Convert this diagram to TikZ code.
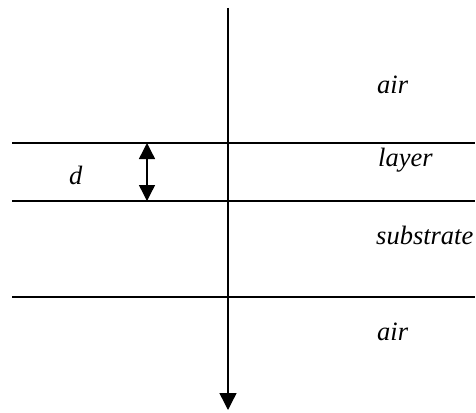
\documentclass[tikz,border=0pt]{standalone}
\usepackage{fontspec}
\setmainfont{Liberation Serif}
\usetikzlibrary{arrows.meta}
\begin{document}
\begin{tikzpicture}[x=1pt,y=-1pt,
  boundary/.style={line width=1.4pt},
  ray/.style={line width=1.4pt,-{Triangle[width=17pt,length=17pt]}},
  dimarrow/.style={line width=1.4pt,{Triangle[width=16pt,length=16pt]}-{Triangle[width=16pt,length=16pt]}},
  lbl/.style={anchor=base west,inner sep=0pt,font=\fontsize{26.5}{30}\selectfont\itshape}]
\useasboundingbox (0,0) rectangle (476,412);
\coordinate (l1a) at (12,143); \coordinate (l1b) at (475,143);
\coordinate (l2a) at (12,201); \coordinate (l2b) at (475,201);
\coordinate (l3a) at (12,297); \coordinate (l3b) at (475,297);
\coordinate (rtop) at (228,8); \coordinate (rbot) at (228,410);
\coordinate (dtop) at (147,143); \coordinate (dbot) at (147,201);
\draw[boundary] (l1a) -- (l1b);
\draw[boundary] (l2a) -- (l2b);
\draw[boundary] (l3a) -- (l3b);
\draw[ray] (rtop) -- (rbot);
\draw[dimarrow] (dtop) -- (dbot);
\node[lbl] (air1) at (377,93) {air};
\node[lbl] (layer) at (378,166) {layer};
\node[lbl] (sub) at (376,244) {substrate};
\node[lbl] (air2) at (377,340) {air};
\node[lbl] (d) at (69,184) {d};
\end{tikzpicture}
\end{document}
